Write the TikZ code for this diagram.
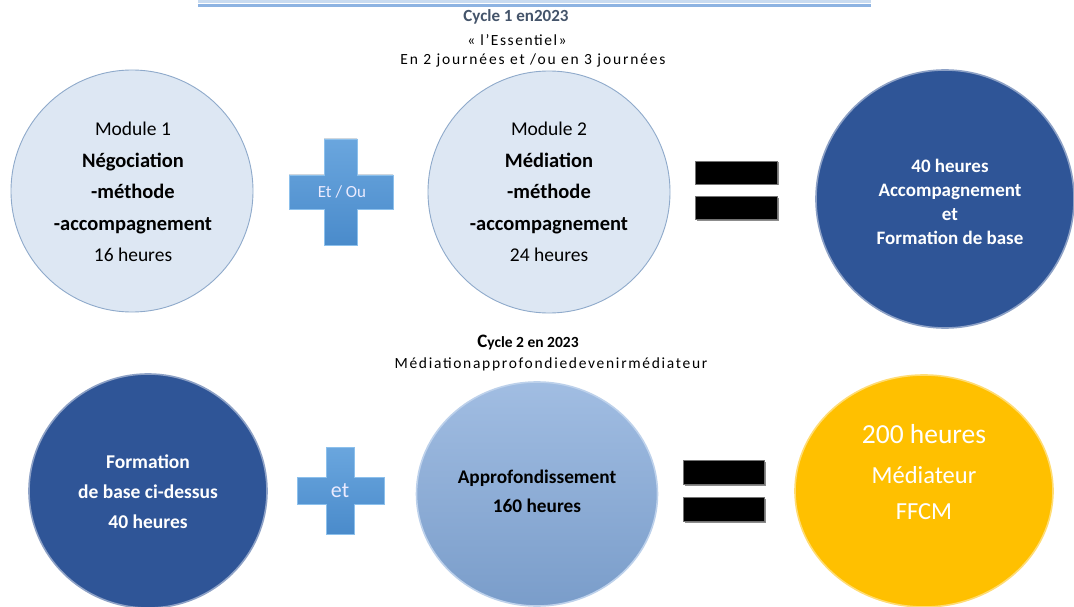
\documentclass[tikz,border=0pt]{standalone}
\usepackage{fontspec}
\setmainfont{Carlito}
\usetikzlibrary{shapes.geometric}
\definecolor{lightc}{HTML}{DDE7F3}
\definecolor{lightedge}{HTML}{8FAACB}
\definecolor{darkc}{HTML}{2F5597}
\definecolor{medtop}{HTML}{A1BDE2}
\definecolor{medbot}{HTML}{7A9DCA}
\definecolor{yel}{HTML}{FFC000}
\definecolor{plusl}{HTML}{6AA6DE}
\definecolor{plusd}{HTML}{4A8BCB}
\definecolor{plusedge}{HTML}{8CC0EC}
\definecolor{hdr}{HTML}{44546A}
\definecolor{titleline}{HTML}{8DB3E2}
\definecolor{titleghost}{HTML}{C9DBF0}
\newcommand{\bb}[1]{{\fontsize{20.5}{31.5}\selectfont\bfseries #1}}
\tikzset{
  disc/.style={circle, inner sep=0pt, minimum size=#1},
  oval/.style 2 args={ellipse, inner sep=0pt, minimum width=#1, minimum height=#2},
  lightdisc/.style={fill=lightc, draw=lightedge, line width=0.9pt},
  darkdisc/.style={fill=darkc, draw=darkc!55!white, line width=1.6pt},
  meddisc/.style={top color=medtop, bottom color=medbot, draw=medtop!70!white, line width=1.6pt},
  yeldisc/.style={fill=yel, draw=yel!55!white, line width=1.6pt},
  plusshape/.style={top color=plusl, bottom color=plusd, draw=plusedge, line width=0.8pt},
  eqbar/.style={fill=black, draw=black!55, line width=0.8pt},
  txt/.style={inner sep=0pt, align=center},
  bodytxt/.style={txt, font=\fontsize{19.5}{31.5}\selectfont},
}
\begin{document}
\begin{tikzpicture}[x=1pt,y=-1pt]
\useasboundingbox (0,0) rectangle (1074,607);
\fill[white] (0,0) rectangle (1074,607);

% title remnant
\fill[titleghost] (198,0) rectangle (871,3.5);
\draw[titleline, line width=3pt] (198,5.2) -- (871,5.2);

% headers cycle 1
\node[txt, font=\fontsize{17}{20}\selectfont\bfseries, text=hdr] (h1) at (516,17) {Cycle 1 en2023};
\node[txt, font=\fontsize{15.5}{18}\selectfont\addfontfeatures{LetterSpace=10}] (h2) at (517,40) {« l’Essentiel»};
\node[txt, font=\fontsize{15.5}{18}\selectfont\addfontfeatures{LetterSpace=12}] (h3) at (533,60) {En 2 journées et /ou en 3 journées};

% row 1
\node[disc=242pt, lightdisc] (c1) at (132,191) {};
\node[bodytxt] (t1) at (133,192) {Module 1\\\bb{Négociation}\\\bb{-méthode}\\\bb{-accompagnement}\\16 heures};

\fill[plusshape] (324,139) -- (357,139) -- (357,175) -- (393,175) -- (393,209) -- (357,209) -- (357,245) -- (324,245) -- (324,209) -- (289,209) -- (289,175) -- (324,175) -- cycle;
\node[txt, font=\fontsize{17}{20}\selectfont, text=white!92!blue] (p1) at (342,192) {Et / Ou};

\node[disc=242pt, lightdisc] (c2) at (549,192) {};
\node[bodytxt] (t2) at (549,192) {Module 2\\\bb{Médiation}\\\bb{-méthode}\\\bb{-accompagnement}\\24 heures};

\fill[black!45] (696.5,162.5) rectangle (778.5,185.5);
\fill[black!45] (696.5,197.5) rectangle (778.5,220.5);
\node[rectangle, inner sep=0pt, minimum width=82pt, minimum height=23pt, eqbar] (e1a) at (736,172.5) {};
\node[rectangle, inner sep=0pt, minimum width=82pt, minimum height=23pt, eqbar] (e1b) at (736,207.5) {};

\node[disc=258pt, darkdisc] (c3) at (945,199) {};
\node[txt, text=white, font=\fontsize{19}{24}\selectfont\bfseries] (t3) at (950,202) {40 heures\\Accompagnement\\et\\Formation de base};

% headers cycle 2
\node[txt, font=\fontsize{15.5}{18}\selectfont\bfseries] (h4) at (528,342) {{\fontsize{19}{18}\selectfont C}ycle 2 en 2023};
\node[txt, font=\fontsize{15.5}{18}\selectfont\addfontfeatures{LetterSpace=11}] (h5) at (551,364) {Médiationapprofondiedevenirmédiateur};

% row 2
\node[oval={238pt}{234pt}, darkdisc] (c4) at (148,491) {};
\node[txt, text=white, font=\fontsize{19.5}{30}\selectfont\bfseries] (t4) at (148,492) {Formation\\de base ci-dessus\\40 heures};

\fill[plusshape] (326,447) -- (354,447) -- (354,477) -- (384,477) -- (384,504) -- (354,504) -- (354,534) -- (326,534) -- (326,504) -- (297,504) -- (297,477) -- (326,477) -- cycle;
\node[txt, font=\fontsize{22}{24}\selectfont, text=white!92!blue] (p2) at (340,491) {et};

\node[oval={241pt}{224pt}, meddisc] (c5) at (537,494) {};
\node[txt, font=\fontsize{19.3}{29}\selectfont\bfseries] (t5) at (537,491) {Approfondissement\\160 heures};

\fill[black!45] (684.5,461.5) rectangle (765.5,485.5);
\fill[black!45] (684.5,498.5) rectangle (765.5,522.5);
\node[rectangle, inner sep=0pt, minimum width=81pt, minimum height=24pt, eqbar] (e2a) at (723.5,472) {};
\node[rectangle, inner sep=0pt, minimum width=81pt, minimum height=24pt, eqbar] (e2b) at (723.5,509) {};

\node[oval={258pt}{232pt}, yeldisc] (c6) at (924,491) {};
\node[txt, text=white, font=\fontsize{27.5}{30}\selectfont] (t6a) at (924,434) {200 heures};
\node[txt, text=white, font=\fontsize{24.5}{30}\selectfont] (t6b) at (924,475) {Médiateur};
\node[txt, text=white, font=\fontsize{24.5}{30}\selectfont] (t6c) at (924,512) {FFCM};
\end{tikzpicture}
\end{document}
